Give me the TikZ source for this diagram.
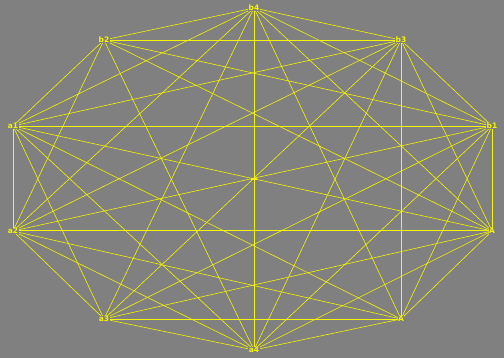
\documentclass[tikz,border=0pt]{standalone}
\usepackage{fontspec}
\setmainfont{DejaVu Sans}
\definecolor{bg}{RGB}{128,128,128}
\definecolor{ln}{RGB}{245,245,0}
\begin{document}
\begin{tikzpicture}[x=1pt,y=-1pt,
  vert/.style={fill=bg,text=ln,inner sep=0.5pt,font=\fontsize{7.5}{8}\selectfont\bfseries},
  edge/.style={draw=ln,line width=0.6pt}]
\fill[bg] (0,0) rectangle (504,358);
\useasboundingbox (0,0) rectangle (504,358);
\coordinate (b4) at (254,8);
\coordinate (b2) at (104,40);
\coordinate (b3) at (401,40);
\coordinate (a1) at (13,126);
\coordinate (b1) at (492,126);
\coordinate (a2) at (13,231);
\coordinate (r) at (492,231);
\coordinate (a3) at (104,319);
\coordinate (s) at (401,319);
\coordinate (a4) at (254,350);
\foreach \u/\v in {b4/b2,b4/b3,b4/a1,b4/b1,b4/a2,b4/r,b4/a3,b4/s,b4/a4,
  b2/b3,b2/a1,b2/b1,b2/a2,b2/r,b2/a4,
  b3/a1,b3/b1,b3/a2,b3/r,b3/a3,b3/a4,
  a1/b1,a1/r,a1/a3,a1/s,a1/a4,
  b1/a2,b1/r,b1/a3,b1/s,b1/a4,
  a2/a3,a2/s,a2/a4,
  r/a3,r/s,r/a4,
  a3/s,a3/a4,
  s/a4}
  \draw[edge] (\u) -- (\v);
\draw[edge,line width=1pt] (a1) -- (a2);
\draw[edge,line width=1pt] (a2) -- (r);
\draw[edge,line width=1pt] (b3) -- (s);
\node[vert] (nb4) at (b4) {b4};
\node[vert] (nb2) at (b2) {b2};
\node[vert] (nb3) at (b3) {b3};
\node[vert] (na1) at (a1) {a1};
\node[vert] (nb1) at (b1) {b1};
\node[vert] (na2) at (a2) {a2};
\node[vert] (nr) at (r) {A};
\node[vert] (na3) at (a3) {a3};
\node[vert] (ns) at (s) {A};
\node[vert] (na4) at (a4) {a4};
\node[fill=ln,minimum width=6pt,minimum height=2pt,inner sep=0pt] (c) at (254,179) {};
\end{tikzpicture}
\end{document}
